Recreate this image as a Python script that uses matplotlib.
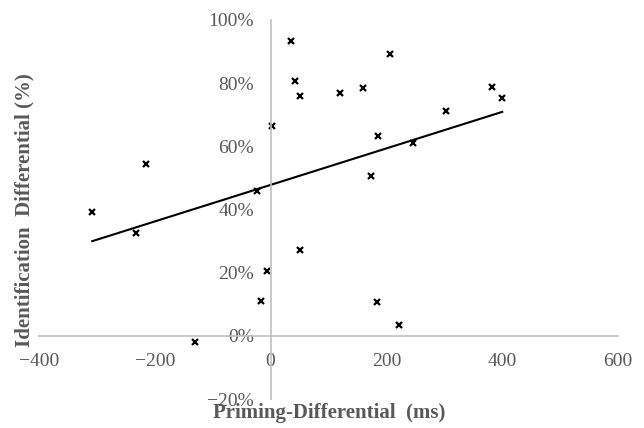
import numpy as np
import matplotlib
matplotlib.use("Agg")
import matplotlib.pyplot as plt
from matplotlib.ticker import PercentFormatter

# ── Veri ──────────────────────────────────────────────────────────────────────
priming_ms = [-308, -232, -216, -131, -24, 3, 36, 43, 51, 51, -7, -16,
              206, 120, 160, 382, 400, 303, 185, 246, 174, 183, 221]
ident_pct = [39.2, 32.6, 54.4, -1.9, 46.0, 66.4, 93.4, 80.7, 75.9, 27.3, 20.5, 11.0,
             89.3, 76.8, 78.5, 78.8, 75.2, 71.3, 63.4, 61.2, 50.6, 10.7, 3.5]

x_ticks = [-400, -200, 0, 200, 400, 600]
y_ticks = [-20, 0, 20, 40, 60, 80, 100]

TICK_GRAY = "#595959"
AXIS_GRAY = "#bfbfbf"

# ── Çizim ─────────────────────────────────────────────────────────────────────
fig = plt.figure(figsize=(6.44, 4.28), dpi=100)
ax = fig.add_axes([39 / 644, 29 / 428, 579 / 644, 379 / 428])

x = np.array(priming_ms, dtype=float)
y = np.array(ident_pct, dtype=float)

ax.plot(x, y, linestyle="none", marker="x", ms=4.5, mew=1.6, color="black")

# doğrusal eğilim çizgisi
slope, intercept = np.polyfit(x, y, 1)
xl = np.array([x.min(), x.max()])
ax.plot(xl, slope * xl + intercept, color="black", lw=1.5)

ax.set_xlim(-400, 600)
ax.set_ylim(-20, 100)
ax.set_xticks(x_ticks)
ax.set_yticks(y_ticks)
ax.yaxis.set_major_formatter(PercentFormatter(decimals=0))

for side in ("top", "right"):
    ax.spines[side].set_visible(False)
ax.spines["left"].set_position(("data", 0))
ax.spines["bottom"].set_position(("data", 0))
for side in ("left", "bottom"):
    ax.spines[side].set_color(AXIS_GRAY)
    ax.spines[side].set_linewidth(1.2)

ax.tick_params(axis="both", length=0, labelcolor=TICK_GRAY, labelsize=14)
ax.tick_params(axis="y", pad=12)
ax.tick_params(axis="x", pad=12)
for lbl in ax.get_xticklabels() + ax.get_yticklabels():
    lbl.set_fontfamily("Liberation Serif")

fig.text(329 / 644, 1 - 413 / 428, "Priming-Differential  (ms)", ha="center", va="center",
         fontsize=15, fontweight="bold", color=TICK_GRAY, family="Liberation Serif")
fig.text(24 / 644, 1 - 210 / 428, "Identification  Differential (%)", ha="center", va="center",
         rotation=90, fontsize=15, fontweight="bold", color=TICK_GRAY, family="Liberation Serif")

fig.savefig("out.png", dpi=100)
